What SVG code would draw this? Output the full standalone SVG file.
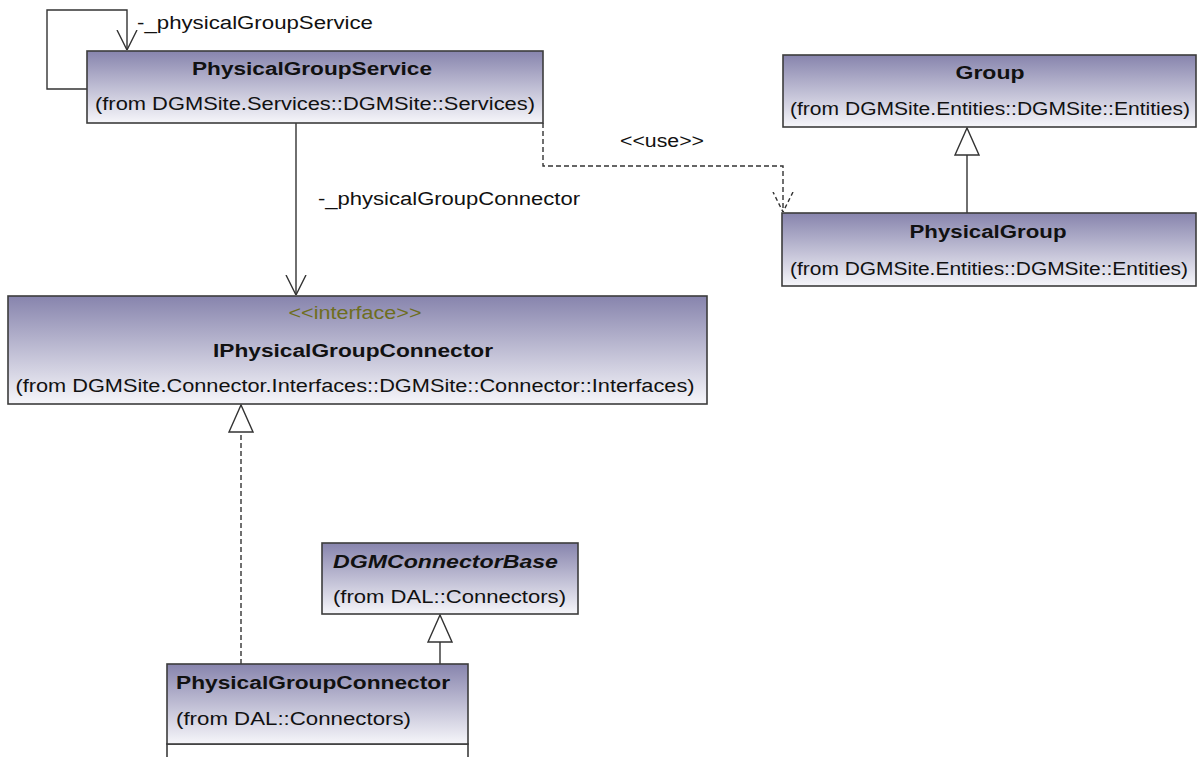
<svg xmlns="http://www.w3.org/2000/svg" width="1198" height="757" viewBox="0 0 1198 757">
<style>
.box{stroke:#3c3c3c;stroke-width:1.6;fill:url(#g)}
.plain{stroke:#3c3c3c;stroke-width:1.6;fill:#ffffff}
.t{font-family:"Liberation Sans",Arial,sans-serif;font-size:18px;fill:#111}
.b{font-weight:bold}
.c{text-anchor:middle}
.st{fill:#6e6e1e}
.ln{fill:none;stroke:#333;stroke-width:1.4}
.dash{stroke-dasharray:5,3}
</style>
<defs>
<linearGradient id="g" x1="0" y1="0" x2="0" y2="1">
<stop offset="0" stop-color="#8784ad"/>
<stop offset="1" stop-color="#f6f6fa"/>
</linearGradient>
<marker id="open" viewBox="0 0 20 24" refX="20" refY="12" markerWidth="20" markerHeight="24" markerUnits="userSpaceOnUse" orient="auto">
<path d="M0,2 L20,12 L0,22" fill="none" stroke="#333" stroke-width="1.4"/>
</marker>
<marker id="openD" viewBox="0 0 20 24" refX="20" refY="12" markerWidth="20" markerHeight="24" markerUnits="userSpaceOnUse" orient="auto">
<path d="M0,2 L20,12 L0,22" fill="none" stroke="#333" stroke-width="1.4" stroke-dasharray="4,3"/>
</marker>
<marker id="tri" viewBox="0 0 30 26" refX="28" refY="13" markerWidth="30" markerHeight="26" markerUnits="userSpaceOnUse" orient="auto">
<path d="M1,1 L28,13 L1,25 Z" fill="#fff" stroke="#333" stroke-width="1.4"/>
</marker>
</defs>
<rect width="1198" height="757" fill="#fff"/>

<g id="connectors">
<path class="ln" d="M87,89 H47 V10 H127 V50" marker-end="url(#open)"/>
<path class="ln" d="M296,123 V295" marker-end="url(#open)"/>
<path class="ln dash" d="M543,123 V166 H783 V212" marker-end="url(#openD)"/>
<path class="ln" d="M967,213 V128" marker-end="url(#tri)"/>
<path class="ln dash" d="M241,664 V405" marker-end="url(#tri)"/>
<path class="ln" d="M440,664 V615" marker-end="url(#tri)"/>
<text class="t" x="137" y="29" textLength="236" lengthAdjust="spacingAndGlyphs">-_physicalGroupService</text>
<text class="t" x="318" y="205" textLength="262" lengthAdjust="spacingAndGlyphs">-_physicalGroupConnector</text>
<text class="t" x="620" y="147" textLength="84" lengthAdjust="spacingAndGlyphs">&lt;&lt;use&gt;&gt;</text>
</g>

<g id="PhysicalGroupService">
<rect class="box" x="87" y="51" width="456" height="72"/>
<text class="t b c" x="312" y="75" textLength="240" lengthAdjust="spacingAndGlyphs">PhysicalGroupService</text>
<text class="t c" x="315" y="110" textLength="440" lengthAdjust="spacingAndGlyphs">(from DGMSite.Services::DGMSite::Services)</text>
</g>

<g id="Group">
<rect class="box" x="783" y="55" width="413" height="72"/>
<text class="t b c" x="990" y="79" textLength="69" lengthAdjust="spacingAndGlyphs">Group</text>
<text class="t c" x="990" y="115" textLength="400" lengthAdjust="spacingAndGlyphs">(from DGMSite.Entities::DGMSite::Entities)</text>
</g>

<g id="PhysicalGroup">
<rect class="box" x="782" y="213" width="414" height="73"/>
<text class="t b c" x="988" y="238" textLength="157" lengthAdjust="spacingAndGlyphs">PhysicalGroup</text>
<text class="t c" x="989" y="275" textLength="398" lengthAdjust="spacingAndGlyphs">(from DGMSite.Entities::DGMSite::Entities)</text>
</g>

<g id="IPhysicalGroupConnector">
<rect class="box" x="8" y="296" width="699" height="108"/>
<text class="t c st" x="355" y="319" textLength="133" lengthAdjust="spacingAndGlyphs">&lt;&lt;interface&gt;&gt;</text>
<text class="t b c" x="353" y="357" textLength="280" lengthAdjust="spacingAndGlyphs">IPhysicalGroupConnector</text>
<text class="t c" x="355" y="392" textLength="679" lengthAdjust="spacingAndGlyphs">(from DGMSite.Connector.Interfaces::DGMSite::Connector::Interfaces)</text>
</g>

<g id="DGMConnectorBase">
<rect class="box" x="322" y="543" width="256" height="71"/>
<text class="t b" x="333" y="568" font-style="italic" textLength="225" lengthAdjust="spacingAndGlyphs">DGMConnectorBase</text>
<text class="t" x="333" y="603" textLength="233" lengthAdjust="spacingAndGlyphs">(from DAL::Connectors)</text>
</g>

<g id="PhysicalGroupConnector">
<rect class="plain" x="167" y="744" width="301" height="30"/>
<rect class="box" x="167" y="664" width="301" height="80"/>
<text class="t b" x="176" y="689" textLength="274" lengthAdjust="spacingAndGlyphs">PhysicalGroupConnector</text>
<text class="t" x="176" y="725" textLength="235" lengthAdjust="spacingAndGlyphs">(from DAL::Connectors)</text>
</g>
</svg>
